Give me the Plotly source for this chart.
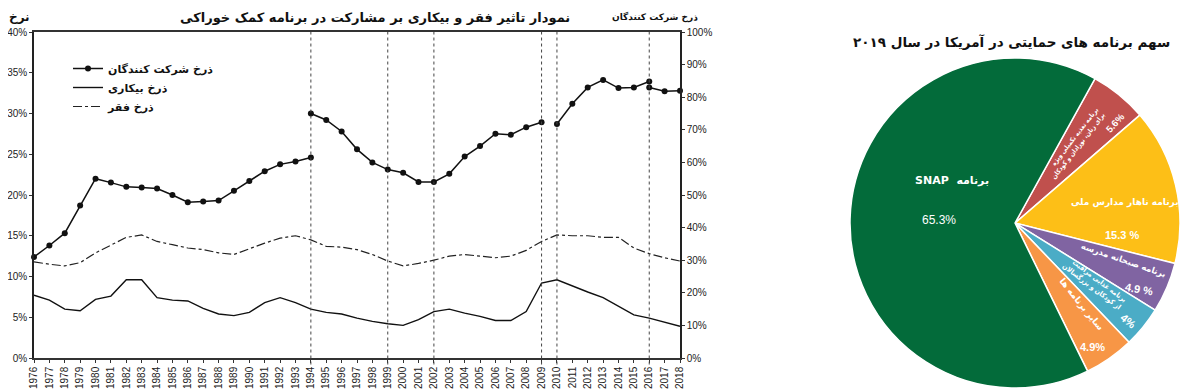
import math
import plotly.graph_objects as go

# ---------------- data ----------------
years = list(range(1976, 2019))
unemployment = [7.7, 7.1, 6.0, 5.8, 7.2, 7.6, 9.6, 9.6, 7.4, 7.1,
                7.0, 6.1, 5.4, 5.2, 5.6, 6.8, 7.4, 6.8, 6.0, 5.6,
                5.4, 4.9, 4.5, 4.2, 4.0, 4.7, 5.7, 6.0, 5.5, 5.1,
                4.6, 4.6, 5.7, 9.2, 9.6, 8.8, 8.1, 7.4, 6.3, 5.3,
                4.9, 4.4, 3.9]
poverty = [11.8, 11.5, 11.3, 11.7, 12.9, 13.9, 14.8, 15.1, 14.3, 13.9,
           13.5, 13.3, 12.9, 12.7, 13.4, 14.1, 14.7, 15.0, 14.5, 13.7,
           13.6, 13.3, 12.7, 11.9, 11.3, 11.6, 12.0, 12.5, 12.7, 12.5,
           12.3, 12.5, 13.2, 14.3, 15.1, 15.0, 15.0, 14.8, 14.8, 13.5,
           12.8, 12.3, 11.9]
# participation rate (right axis, %), in separate segments
part_years_1 = list(range(1976, 1995))
part_vals_1 = [31.0, 34.5, 38.3, 46.8, 55.0, 53.8, 52.5, 52.3, 52.0, 50.0,
               47.8, 48.0, 48.3, 51.3, 54.3, 57.3, 59.4, 60.3, 61.5]
part_years_2 = list(range(1994, 2010))
part_vals_2 = [75.0, 73.0, 69.5, 64.0, 60.0, 57.8, 56.8, 54.0, 54.0, 56.5,
               61.8, 65.0, 68.8, 68.5, 70.8, 72.3]
part_years_3 = list(range(2010, 2017))
part_vals_3 = [71.8, 78.0, 83.0, 85.3, 82.8, 83.0, 84.8]
part_years_4 = list(range(2016, 2019))
part_vals_4 = [83.0, 81.8, 82.0]
break_years = [1994, 1999, 2002, 2009, 2010, 2016]

left_ticks = [0, 5, 10, 15, 20, 25, 30, 35, 40]
right_ticks = [0, 10, 20, 30, 40, 50, 60, 70, 80, 90, 100]

series_names = ["ذرخ شرکت کنندگان", "ذرخ بیکاری", "ذرخ فقر"]

pie_labels = ["برنامه تغذیه تکمیلی ویژه<br>برای زنان، نوزادان و کودکان",
              "برنامه ناهار مدارس ملی",
              "برنامه صبحانه مدرسه",
              "برنامه غذایی مراقبت<br>از کودکان و بزرگسالان",
              "سایر برنامه ها",
              "SNAP  برنامه"]
pie_values = [5.6, 15.3, 4.9, 4.0, 4.9, 65.3]
pie_pct_text = ["5.6%", "15.3 %", "4.9 %", "4%", "4.9%", "65.3%"]
pie_colors = ["#c0504d", "#fdbf17", "#8064a2", "#4bacc6", "#f79646", "#036b3a"]

# ---------------- helpers ----------------
# the page has an 8px body margin, so the figure is 8px smaller than the
# window and reference pixel coords are shifted by 8px
OFF = 8
W, H = 1200 - OFF, 391 - OFF


def px(x):
    return (x - OFF) / W


def py(y):
    return (H - (y - OFF)) / H


CX, CY, R = 1015, 223, 165  # pie centre / radius (reference pixels)
ROT = 29


def pol(angle, r):
    a = math.radians(angle)
    return CX + r * math.sin(a), CY - r * math.cos(a)


# participation trace with gaps between segments
part_x, part_y = [], []
for xs, ys in [(part_years_1, part_vals_1), (part_years_2, part_vals_2),
               (part_years_3, part_vals_3), (part_years_4, part_vals_4)]:
    if part_x:
        part_x.append(None)
        part_y.append(None)
    part_x += xs
    part_y += ys

FONT = "Liberation Sans, Arial, DejaVu Sans, sans-serif"
FA = "DejaVu Sans, Liberation Sans, sans-serif"
FAC = "DejaVu Sans Condensed, DejaVu Sans, Liberation Sans, sans-serif"

fig = go.Figure()

fig.add_trace(go.Scatter(
    x=part_x, y=part_y, yaxis="y2", name=series_names[0],
    mode="lines+markers", connectgaps=False, cliponaxis=False,
    line=dict(color="#111111", width=1.5),
    marker=dict(color="#111111", size=6)))
fig.add_trace(go.Scatter(
    x=years, y=unemployment, name=series_names[1], mode="lines",
    line=dict(color="#111111", width=1.4)))
fig.add_trace(go.Scatter(
    x=years, y=poverty, name=series_names[2], mode="lines",
    line=dict(color="#222222", width=1.2, dash="dashdot")))

fig.add_trace(go.Pie(
    labels=[l.replace("<br>", " ") for l in pie_labels], values=pie_values,
    sort=False, direction="clockwise", rotation=ROT,
    marker=dict(colors=pie_colors, line=dict(color="white", width=1.5)),
    textinfo="none", hoverinfo="label+percent", showlegend=False,
    domain=dict(x=[px(CX - R), px(CX + R)], y=[py(CY + R), py(CY - R)])))

for yr in break_years:
    fig.add_shape(type="line", xref="x", yref="y domain", x0=yr, x1=yr,
                  y0=-0.02, y1=1, line=dict(color="#444444", width=1, dash="dot"))

axis_common = dict(showgrid=False, zeroline=False, showline=True,
                   linewidth=1.5, ticks="outside", ticklen=3,
                   tickcolor="#333333", automargin=False,
                   tickfont=dict(size=10, color="#222222"))

fig.update_layout(
    template="none",
    width=W, height=H, margin=dict(l=0, r=0, t=0, b=0, autoexpand=False),
    paper_bgcolor="white", plot_bgcolor="white",
    font=dict(family=FONT, color="#222222", size=10),
    xaxis=dict(domain=[px(34), px(680)], range=[1976, 2018],
               tickvals=years, ticktext=[str(y) for y in years], tickangle=-90,
               mirror=True, linecolor="#333333", **axis_common),
    yaxis=dict(domain=[py(358), py(32)], range=[0, 40], tickvals=left_ticks,
               ticktext=[f"{v}%" for v in left_ticks],
               linecolor="#222222", **axis_common),
    yaxis2=dict(overlaying="y", side="right", range=[0, 100],
                tickvals=right_ticks, ticktext=[f"{v}%" for v in right_ticks],
                linecolor="#222222", **axis_common),
    legend=dict(x=px(68), y=py(54), xanchor="left", yanchor="top",
                bgcolor="rgba(0,0,0,0)", tracegroupgap=0, borderwidth=0,
                font=dict(family=FA, size=11, weight="bold", color="#111111")),
)

annotations = [
    dict(text="نمودار تاثیر فقر و بیکاری بر مشارکت در برنامه کمک خوراکی",
         x=px(375), y=py(8.5), yanchor="top",
         font=dict(family=FA, size=13, weight="bold", color="#111111")),
    dict(text="نرخ", x=px(19), y=py(8.5), yanchor="top",
         font=dict(family=FA, size=12, weight="bold", color="#111111")),
    dict(text=series_names[0], x=px(655), y=py(17),
         font=dict(family=FA, size=9, weight="bold", color="#111111")),
    dict(text="سهم برنامه های حمایتی در آمریکا در سال ۲۰۱۹",
         x=px(1011), y=py(42), font=dict(family=FA, size=13.5, weight="bold", color="#111111")),
]

# pie labels (white, inside slices): (x, y, angle, size)
lab = [
    (*pol(37, 100), -52, 6.5),
    (1125, 202, 0, 9),
    (*pol(109, 115), 19, 8.5),
    (*pol(127, 100), 37, 7),
    (*pol(141, 105), 51, 9),
    (952, 180, 0, 11),
]
pct = [
    (*pol(45, 142), -48, 9.5),
    (1122, 235, 0, 11),
    (*pol(118, 140), 10, 11),
    (*pol(131, 150), 40, 11),
    (*pol(148, 146), 0, 11),
    (939, 220, 0, 12),
]
for i in range(len(pie_labels)):
    lx, ly, la, ls = lab[i]
    annotations.append(dict(text=pie_labels[i], x=px(lx), y=py(ly), textangle=la,
                            align="right",
                            font=dict(family=FAC if i in (0, 3) else FA, size=ls,
                                      weight="bold", color="white")))
    tx, ty, ta, ts = pct[i]
    annotations.append(dict(text=pie_pct_text[i], x=px(tx), y=py(ty), textangle=ta,
                            font=dict(family=FONT, size=ts,
                                      weight="bold" if i != 5 else "normal",
                                      color="white")))

for a in annotations:
    a.setdefault("yanchor", "middle")
    a.update(xref="paper", yref="paper", showarrow=False, xanchor="center")
fig.update_layout(annotations=annotations)

fig.write_html("out.html")
